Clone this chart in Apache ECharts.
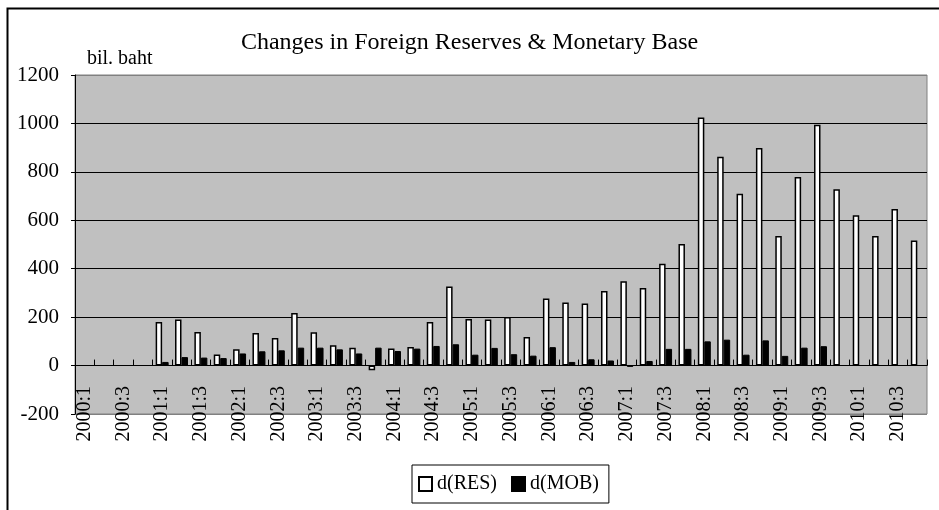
<!DOCTYPE html>
<html>
<head>
<meta charset="utf-8">
<script src="https://cdn.jsdelivr.net/npm/echarts@6/dist/echarts.min.js"></script>
<style>
  html, body { margin: 0; padding: 0; background: #fff; }
  #chart { width: 939px; height: 510px; }
</style>
</head>
<body>
<div id="chart"></div>
<script>
  // quarterly categories, 2000:1 .. 2010:4
  const categories = [
    '2000:1', '2000:2', '2000:3', '2000:4',
    '2001:1', '2001:2', '2001:3', '2001:4',
    '2002:1', '2002:2', '2002:3', '2002:4',
    '2003:1', '2003:2', '2003:3', '2003:4',
    '2004:1', '2004:2', '2004:3', '2004:4',
    '2005:1', '2005:2', '2005:3', '2005:4',
    '2006:1', '2006:2', '2006:3', '2006:4',
    '2007:1', '2007:2', '2007:3', '2007:4',
    '2008:1', '2008:2', '2008:3', '2008:4',
    '2009:1', '2009:2', '2009:3', '2009:4',
    '2010:1', '2010:2', '2010:3', '2010:4',
  ]

  // change in foreign reserves, bil. baht
  const resValues = [
    null, null, null, null,
    180, 190, 139, 46,
    67, 135, 114, 217,
    138, 84, 74, -19,
    70, 77, 180, 327,
    192, 190, 201, 118,
    277, 260, 256, 308,
    348, 320, 420, 502,
    1025, 862, 710, 899,
    535, 779, 995, 728,
    621, 535, 647, 517,
  ]

  // change in monetary base, bil. baht
  const mobValues = [
    null, null, null, null,
    15, 35, 33, 31,
    50, 59, 63, 74,
    74, 67, 50, 74,
    60, 70, 81, 88,
    45, 73, 47, 41,
    76, 15, 26, 21,
    -5, 19, 69, 69,
    100, 107, 45, 104,
    40, 74, 80, null,
    null, null, null, null,
  ]

  const yTicks = { min: -200, max: 1200, step: 200 }

  const serif = '"Liberation Serif", "Times New Roman", serif'
  const chart = echarts.init(document.getElementById('chart'), undefined, { renderer: 'canvas' })

  chart.setOption({
    animation: false,
    backgroundColor: '#fff',
    textStyle: { fontFamily: serif, color: '#000' },
    title: {
      text: 'Changes in Foreign Reserves & Monetary Base',
      left: 'center',
      top: 26,
      textStyle: { fontFamily: serif, fontSize: 24, fontWeight: 'normal', color: '#000' },
    },
    graphic: [
      {
        type: 'rect',
        left: 5,
        top: 6,
        shape: { width: 1000, height: 600 },
        style: { fill: 'none', stroke: '#000', lineWidth: 2 },
        silent: true,
      },
      {
        type: 'text',
        left: 87,
        top: 49,
        style: { text: 'bil. baht', fontFamily: serif, fontSize: 20, fill: '#000' },
      },
    ],
    legend: {
      left: 412,
      top: 465,
      itemWidth: 13,
      itemHeight: 14,
      itemGap: 14,
      padding: [9, 10, 9, 6],
      borderColor: '#000',
      borderWidth: 1,
      icon: 'rect',
      textStyle: { fontFamily: serif, fontSize: 20, color: '#000' },
      data: ['d(RES)', 'd(MOB)'],
    },
    grid: {
      left: 75,
      right: 12,
      top: 75,
      bottom: 96,
      show: true,
      backgroundColor: '#c0c0c0',
      borderColor: '#808080',
      borderWidth: 1,
      containLabel: false,
    },
    xAxis: {
      type: 'category',
      data: categories,
      axisLine: { show: true, onZero: true, lineStyle: { color: '#000', width: 1 } },
      axisTick: {
        show: true,
        inside: true,
        length: 6,
        interval: 0,
        alignWithLabel: false,
        lineStyle: { color: '#000' },
      },
      axisLabel: {
        interval: 1,
        rotate: 90,
        margin: -28,
        fontFamily: serif,
        fontSize: 20,
        color: '#000',
      },
      splitLine: { show: false },
    },
    yAxis: {
      type: 'value',
      min: yTicks.min,
      max: yTicks.max,
      interval: yTicks.step,
      axisLine: { show: true, lineStyle: { color: '#000', width: 1 } },
      axisTick: { show: true, length: 4, lineStyle: { color: '#000' } },
      axisLabel: {
        margin: 16,
        fontFamily: serif,
        fontSize: 21,
        color: '#000',
        formatter: (v) => String(v),
      },
      splitLine: {
        show: true,
        lineStyle: {
          color: ['#808080', '#000', '#000', '#000', '#000', '#000', '#000', '#808080'],
          width: 1,
        },
      },
    },
    series: [
      {
        name: 'd(RES)',
        type: 'bar',
        data: resValues,
        barGap: '0%',
        barCategoryGap: '33%',
        itemStyle: { color: '#fff', borderColor: '#000', borderWidth: 1.5 },
      },
      {
        name: 'd(MOB)',
        type: 'bar',
        data: mobValues,
        barGap: '0%',
        barCategoryGap: '33%',
        itemStyle: { color: '#000', borderColor: '#000', borderWidth: 1 },
      },
    ],
  })
</script>
</body>
</html>
